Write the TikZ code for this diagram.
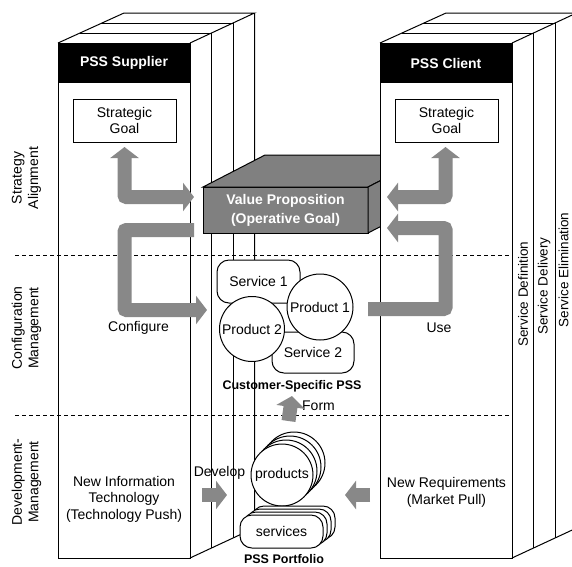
\documentclass[tikz,border=0pt]{standalone}
\usepackage{fontspec}
\setmainfont{Liberation Sans}
\usetikzlibrary{arrows.meta}

\definecolor{flowgray}{RGB}{136,136,136}
\definecolor{boxgray}{RGB}{128,128,128}

\tikzset{every picture/.style={line width=1pt}}
\tikzset{
  txt/.style={inner sep=0pt, align=center, font=\fontsize{14}{16.5}\selectfont},
  bold/.style={inner sep=0pt, align=center, font=\bfseries\fontsize{12.5}{15}\selectfont},
  headbox/.style={fill=black, text=white, minimum width=132pt, minimum height=40pt, inner sep=0pt, font=\bfseries\fontsize{14}{16}\selectfont},
  goalbox/.style={txt, draw, fill=white, minimum width=103pt, minimum height=43pt},
  svcbox/.style={txt, draw, fill=white, rounded corners=12pt, outer sep=0pt},
  prodcirc/.style={txt, draw, fill=white, circle, outer sep=0pt},
  flow/.style={draw=flowgray, line width=14pt, rounded corners=2pt, -{Triangle[length=11pt,width=28pt]}},
  flowboth/.style={flow, {Triangle[length=11pt,width=28pt]}-{Triangle[length=11pt,width=28pt]}},
  sidelabel/.style={txt, rotate=90}
}

\begin{document}
\begin{tikzpicture}[x=1pt,y=1pt,yscale=-1,xscale=1]
\useasboundingbox (0,0) rectangle (572,566);
\clip (0,0) rectangle (572,566);

%Shape: Block [PSS Supplier]
\draw[fill=white] (58,43) rectangle (190,558);
\draw (58,43) -- (124,13) -- (254.5,13) -- (190,43);
\draw (79.5,33) -- (211.5,33) -- (211.5,548);
\draw (101,23) -- (233,23) -- (233,538);
\draw (254.5,13) -- (254.5,528) -- (190,558);
\node[headbox] (supHead) at (124,63) {PSS Supplier};
\node[goalbox] (supGoal) at (124.5,120.5) {Strategic\\Goal};

%Shape: Box [Value Proposition]
\node[txt, draw, fill=boxgray, text=white, font=\bfseries\fontsize{14}{19}\selectfont, minimum width=165pt, minimum height=46pt, outer sep=0pt] (vp) at (285.5,210) {Value Proposition\\(Operative Goal)};
\draw[fill=boxgray] (vp.north west) -- ++(62,-32) -- ++(165,0) -- (vp.north east) -- cycle;
\draw[fill=boxgray] (vp.north east) -- ++(62,-32) -- ++(0,46) -- (vp.south east) -- cycle;

%Shape: Block [PSS Client]
\draw[fill=white] (380,43) rectangle (512,558);
\draw (380,43) -- (446,13) -- (576.5,13) -- (512,43);
\draw (401.5,33) -- (533.5,33) -- (533.5,548);
\draw (423,23) -- (555,23) -- (555,538);
\draw (576.5,13) -- (576.5,528) -- (512,558);
\node[headbox] (cliHead) at (446,63) {PSS Client};
\node[goalbox] (cliGoal) at (446.5,120.5) {Strategic\\Goal};

%Straight Lines [levels]
\draw[dash pattern=on 4pt off 3pt] (15,255) -- (512,255);
\draw[dash pattern=on 4pt off 3pt] (15,415) -- (512,415);

% Text Node
\node[sidelabel] (lvlStrat) at (26.5,178) {Strategy\\Alignment};
\node[sidelabel] (lvlConf) at (26.5,328) {Configuration\\Management};
\node[sidelabel] (lvlDev) at (26.5,482) {Development-\\Management};
\node[sidelabel, font=\fontsize{13.5}{16}\selectfont] (phDef) at (523,294) {Service Definition};
\node[sidelabel, font=\fontsize{13.5}{16}\selectfont] (phDel) at (544,286) {Service Delivery};
\node[sidelabel, font=\fontsize{13.5}{16}\selectfont] (phElim) at (563.5,270) {Service Elimination};

%Shape: Customer-Specific PSS
\node[svcbox, minimum width=83pt, minimum height=43pt] (svc1) at (258.5,281.5) {Service 1};
\node[svcbox, minimum width=82pt, minimum height=41pt] (svc2) at (313,352.5) {Service 2};
\node[prodcirc, minimum size=66pt] (prod1) at (320,307) {Product 1};
\node[prodcirc, minimum size=65pt] (prod2) at (252,329) {Product 2};
\node[bold] (cpss) at (292,386) {Customer-Specific PSS};

%Shape: PSS Portfolio
\draw[fill=white] (294,463) circle (31);
\draw[fill=white] (290,467) circle (31);
\draw[fill=white] (286,471) circle (31);
\node[prodcirc, minimum size=62pt] (prods) at (282,475) {products};
\draw[fill=white, rounded corners=12pt] (252,506) rectangle (335,539);
\draw[fill=white, rounded corners=12pt] (248,509) rectangle (331,542);
\draw[fill=white, rounded corners=12pt] (244,512) rectangle (327,545);
\node[svcbox, minimum width=83pt, minimum height=33pt] (svcs) at (281.5,531.5) {services};
\node[bold] (port) at (284,559) {PSS Portfolio};

% Text Node
\node[txt] (conf) at (138.5,328) {Configure};
\node[txt] (use) at (439,328) {Use};
\node[txt] (push) at (124,499) {New Information\\Technology\\(Technology Push)};
\node[txt] (pull) at (446.5,492.5) {New Requirements\\(Market Pull)};
\node[txt] (dev) at (219.5,473) {Develop};
\node[txt] (form) at (318.5,406) {Form};

%Arrows
\coordinate (supTop) at (124.5,147);
\coordinate (supVp) at (194,197);
\coordinate (vpSup) at (194,230);
\coordinate (supCfg) at (207,310);
\coordinate (cliTop) at (445.5,147);
\coordinate (cliVp) at (387,197);
\coordinate (cfgCli) at (368,309);
\coordinate (cliUse) at (387,228);
\draw[flowboth] (supTop) |- (supVp);
\draw[flow] (vpSup) -- (124.5,230) |- (supCfg);
\draw[flowboth] (cliVp) -| (cliTop);
\draw[flow] (cfgCli) -- (445.5,309) |- (cliUse);
\draw[flow] (288.5,421) -- (cpss.south |- 0,396);
\draw[flow] (202,495) -- (227,495);
\draw[flow] (370,495) -- (345,495);

\end{tikzpicture}
\end{document}
